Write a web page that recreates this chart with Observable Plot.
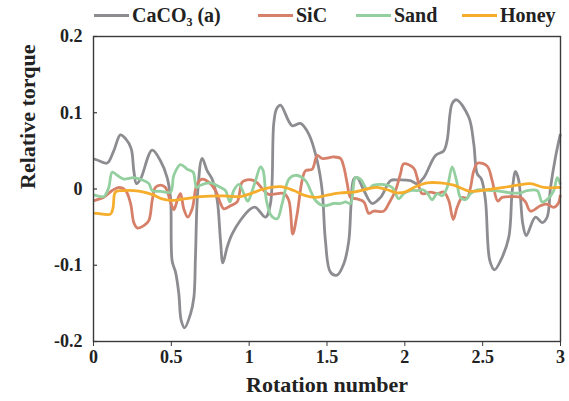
<!DOCTYPE html>
<html>
<head>
<meta charset="utf-8">
<script src="https://cdn.jsdelivr.net/npm/d3@7"></script>
<script src="https://cdn.jsdelivr.net/npm/@observablehq/plot@0.6"></script>
<style>
  body { margin: 0; background: #fff; }
  #wrap { width: 569px; font-family: "Liberation Serif", "Times New Roman", serif; }
  #legend { position: relative; z-index: 1; height: 20px; font-weight: bold; font-size: 20px; color: #222; }
  .item { position: absolute; top: 3px; display: flex; align-items: center; white-space: nowrap; line-height: 24px; }
  .sw { display: inline-block; width: 35px; height: 3px; margin-right: 3px; }
  sub { font-size: 12px; vertical-align: -4px; line-height: 0; }
</style>
</head>
<body>
<div id="wrap">
  <div id="legend"></div>
  <div id="chart"></div>
</div>
<script>
const seriesNames = ["CaCO3 (a)", "SiC", "Sand", "Honey"];
const seriesColors = ["#8d8d91", "#d6806a", "#94cf9f", "#f6ad2b"];
const xTicks = [0, 0.5, 1, 1.5, 2, 2.5, 3];
const yTicks = [-0.2, -0.1, 0, 0.1, 0.2];

const caco3 = [[0.01,0.039],[0.024,0.038],[0.088,0.034],[0.13,0.05],[0.173,0.071],[0.206,0.066],[0.242,0.053],[0.259,0.024],[0.276,0.007],[0.302,0.013],[0.377,0.051],[0.43,0.037],[0.473,0.015],[0.495,-0.012],[0.505,-0.094],[0.527,-0.109],[0.548,-0.137],[0.563,-0.172],[0.585,-0.182],[0.623,-0.164],[0.645,-0.142],[0.655,-0.089],[0.67,-0.002],[0.698,0.04],[0.73,0.024],[0.762,0.013],[0.795,-0.015],[0.816,-0.068],[0.831,-0.097],[0.859,-0.076],[0.891,-0.059],[0.944,-0.041],[1.009,-0.026],[1.041,-0.024],[1.105,-0.037],[1.137,-0.019],[1.158,0.086],[1.176,0.105],[1.201,0.11],[1.276,0.083],[1.33,0.086],[1.383,0.072],[1.437,0.037],[1.469,-0.002],[1.49,-0.068],[1.522,-0.109],[1.565,-0.113],[1.608,-0.098],[1.64,-0.068],[1.655,-0.019],[1.672,0.013],[1.694,0.015],[1.737,-0.002],[1.79,-0.019],[1.844,-0.011],[1.908,0.011],[1.951,0.012],[2.036,0.011],[2.079,0.007],[2.122,0.015],[2.197,0.044],[2.25,0.05],[2.272,0.064],[2.304,0.112],[2.332,0.117],[2.411,0.094],[2.443,0.059],[2.465,0.02],[2.492,0.013],[2.518,-0.015],[2.546,-0.094],[2.576,-0.106],[2.615,-0.094],[2.668,-0.063],[2.69,-0.002],[2.711,0.023],[2.732,0.011],[2.758,-0.046],[2.78,-0.061],[2.839,-0.037],[2.882,-0.044],[2.914,-0.037],[2.936,0.002],[2.968,0.042],[2.998,0.071]];

const sic = [[0.01,-0.015],[0.024,-0.014],[0.066,-0.011],[0.12,-0.002],[0.163,0.002],[0.206,-0.002],[0.238,-0.019],[0.259,-0.044],[0.281,-0.051],[0.323,-0.048],[0.356,-0.041],[0.377,-0.015],[0.398,0.002],[0.43,0.005],[0.462,0.002],[0.495,-0.017],[0.516,-0.027],[0.538,-0.015],[0.559,-0.006],[0.58,-0.026],[0.606,-0.037],[0.634,-0.026],[0.666,0.007],[0.698,0.013],[0.741,0.009],[0.784,-0.002],[0.816,-0.019],[0.837,-0.026],[0.88,-0.022],[0.923,-0.017],[0.955,0.009],[0.987,0.012],[1.03,0.011],[1.052,0.008],[1.094,-0.002],[1.126,-0.007],[1.18,-0.006],[1.223,-0.006],[1.255,-0.015],[1.28,-0.059],[1.308,-0.033],[1.34,0.011],[1.362,0.024],[1.405,0.026],[1.437,0.044],[1.469,0.04],[1.544,0.042],[1.587,0.04],[1.608,0.029],[1.63,0.007],[1.651,-0.011],[1.694,-0.013],[1.737,-0.017],[1.769,-0.032],[1.8,-0.029],[1.865,-0.029],[1.897,-0.019],[1.94,-0.002],[1.972,0.02],[1.993,0.033],[2.058,0.027],[2.079,0.015],[2.111,-0.006],[2.165,-0.004],[2.208,-0.006],[2.25,-0.004],[2.282,-0.015],[2.311,-0.04],[2.336,-0.024],[2.368,-0.011],[2.4,-0.012],[2.422,0.002],[2.443,0.024],[2.469,0.034],[2.529,0.03],[2.561,0.011],[2.597,-0.016],[2.625,-0.011],[2.7,-0.01],[2.743,-0.011],[2.775,-0.017],[2.807,-0.029],[2.871,-0.022],[2.914,-0.02],[2.957,-0.024],[2.985,-0.019],[2.998,-0.009]];

const sand = [[0.01,-0.008],[0.024,-0.009],[0.066,-0.01],[0.098,0.002],[0.12,0.022],[0.152,0.018],[0.195,0.013],[0.259,0.015],[0.313,0.012],[0.356,0.007],[0.377,-0.002],[0.43,-0.003],[0.495,-0.004],[0.516,0.018],[0.559,0.032],[0.602,0.026],[0.64,0.022],[0.662,0.002],[0.687,0.005],[0.752,0.008],[0.816,0.002],[0.848,-0.002],[0.876,-0.017],[0.901,-0.002],[0.934,0.006],[0.966,-0.006],[0.991,-0.016],[1.02,-0.002],[1.041,0.011],[1.073,0.029],[1.09,0.024],[1.111,-0.015],[1.142,-0.035],[1.18,-0.039],[1.212,-0.019],[1.255,0.013],[1.298,0.018],[1.362,0.011],[1.394,-0.002],[1.426,-0.015],[1.48,-0.022],[1.544,-0.019],[1.587,-0.019],[1.619,-0.017],[1.651,-0.019],[1.683,0.015],[1.715,0.013],[1.758,0.0],[1.8,0.005],[1.854,0.006],[1.919,0.002],[1.961,-0.013],[1.993,-0.006],[2.036,-0.002],[2.079,-0.002],[2.115,-0.001],[2.143,-0.005],[2.175,-0.014],[2.208,-0.006],[2.24,-0.009],[2.272,0.002],[2.304,0.029],[2.332,0.011],[2.357,-0.011],[2.39,-0.014],[2.422,-0.006],[2.465,-0.001],[2.55,-0.002],[2.615,-0.003],[2.679,-0.005],[2.743,-0.005],[2.786,-0.002],[2.85,-0.002],[2.882,-0.017],[2.914,-0.014],[2.957,-0.002],[2.979,0.015],[2.998,0.007]];

const honey = [[0.01,-0.032],[0.024,-0.032],[0.109,-0.033],[0.126,-0.024],[0.141,-0.004],[0.195,-0.002],[0.259,-0.002],[0.323,-0.004],[0.387,-0.008],[0.441,-0.013],[0.495,-0.015],[0.58,-0.013],[0.687,-0.01],[0.837,-0.009],[0.944,-0.01],[1.009,-0.006],[1.094,0.0],[1.201,0.003],[1.287,-0.002],[1.351,-0.008],[1.426,-0.011],[1.501,-0.008],[1.587,-0.005],[1.672,-0.004],[1.758,0.0],[1.822,0.002],[1.887,-0.001],[1.951,-0.005],[2.0,-0.004],[2.058,0.002],[2.143,0.008],[2.229,0.008],[2.314,0.005],[2.422,-0.003],[2.529,-0.001],[2.636,0.002],[2.722,0.005],[2.807,0.007],[2.893,0.002],[2.998,0.002]];

const allSeries = [caco3, sic, sand, honey];

// legend
const legendPos = [94, 258, 356, 462];
const legend = document.getElementById("legend");
seriesNames.forEach((name, i) => {
  const item = document.createElement("div");
  item.className = "item";
  item.style.left = legendPos[i] + "px";
  const sw = document.createElement("span");
  sw.className = "sw";
  sw.style.background = seriesColors[i];
  const label = document.createElement("span");
  if (name.startsWith("CaCO3")) label.innerHTML = "CaCO<sub>3</sub> (a)";
  else label.textContent = name;
  item.appendChild(sw);
  item.appendChild(label);
  legend.appendChild(item);
});

const serif = '"Liberation Serif", "Times New Roman", serif';
const chart = Plot.plot({
  width: 569,
  height: 381,
  marginTop: 16,
  marginLeft: 93,
  marginRight: 9,
  marginBottom: 60,
  style: { fontFamily: serif, fontWeight: "bold", fontSize: "18px", color: "#222", background: "transparent", overflow: "visible" },
  x: { domain: [0, 3] },
  y: { domain: [-0.2, 0.2] },
  marks: [
    ...allSeries.map((s, i) => Plot.line(s, { x: d => d[0], y: d => d[1], stroke: seriesColors[i], strokeWidth: 2.8, curve: "catmull-rom" })),
    Plot.frame({ stroke: "#3a3a3a", strokeWidth: 1.4 }),
    Plot.axisX({ ticks: xTicks, tickSize: 5, tickPadding: 4, tickFormat: d => String(d), label: null, stroke: "#3a3a3a", fontSize: 18, fontFamily: serif }),
    Plot.axisY({ ticks: yTicks, tickSize: 0, tickPadding: 11, tickFormat: d => String(d), label: null, fontSize: 18, fontFamily: serif }),
    Plot.tickY(yTicks, { y: d => d, insetRight: 463, stroke: "#3a3a3a", strokeWidth: 1.2 }),
    Plot.text(["Rotation number"], { frameAnchor: "bottom", dy: 50, text: d => d, fontSize: 22, fontWeight: "bold", fontFamily: serif, fill: "#222" }),
    Plot.text(["Relative torque"], { frameAnchor: "left", dx: -66, rotate: -90, text: d => d, fontSize: 22, fontWeight: "bold", fontFamily: serif, fill: "#222" })
  ]
});
document.getElementById("chart").appendChild(chart);
</script>
</body>
</html>
